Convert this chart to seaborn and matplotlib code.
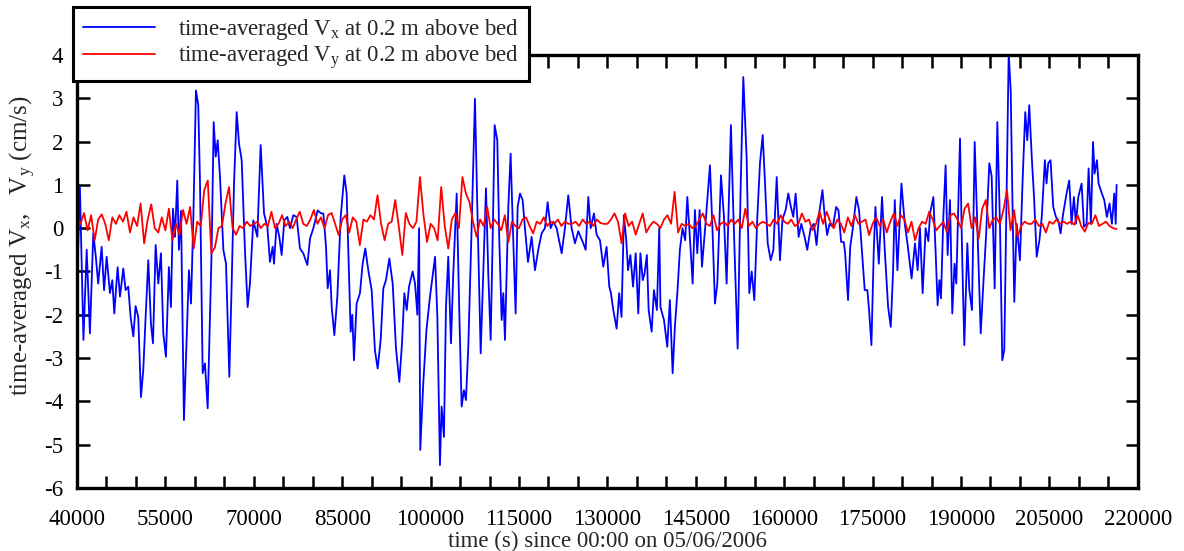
import numpy as np
import pandas as pd
import matplotlib
matplotlib.use("Agg")
import matplotlib.pyplot as plt
import seaborn as sns
from matplotlib.ticker import MultipleLocator

# time-averaged Vx (cm/s): time (s) and value
vx_time = [
    40000, 40150, 40500, 41100, 41650, 42200, 42770, 43200, 43600, 44190,
    44600, 45040, 45600, 46000, 46330, 46900, 47300, 47860, 48250, 48700,
    49100, 49560, 49950, 50400, 50860, 51250, 51650, 52100, 52550, 52900,
    53350, 53800, 54250, 54650, 55100, 55600, 55950, 56290, 56630, 57020,
    57300, 57650, 58150, 58600, 59000, 59350, 59750, 60190, 60580, 60870,
    61330, 61720, 62180, 62450, 62850, 63200, 63540, 63880, 64270, 64840,
    65290, 65850, 66250, 66650, 67100, 67500, 67950, 68500, 68960, 69350,
    69920, 70600, 71170, 71740, 72300, 72750, 73200, 73430, 73880, 74330,
    74730, 75180, 75690, 76140, 76710, 77270, 77840, 78400, 79090, 79540,
    80110, 80840, 81410, 81810, 82260, 82540, 82940, 83220, 83670, 84180,
    84750, 85360, 85760, 86100, 86440, 86720, 87000, 87450, 88020, 88470,
    88920, 89430, 90000, 90560, 91020, 91530, 91980, 92430, 93000, 93570,
    94130, 94700, 95150, 95550, 95950, 96340, 96960, 97360, 97760, 98050,
    98250, 98760, 99300, 99900, 100760, 101150, 101590, 101870, 102270, 102610,
    103000, 103460, 103850, 104430, 104850, 105270, 105660, 106000, 106400, 106960,
    107530, 107930, 108500, 108940, 109400, 109790, 110190, 110530, 110870, 111320,
    111660, 112060, 112340, 112620, 113190, 113580, 114030, 114430, 114770, 115170,
    115620, 116010, 116530, 117140, 117710, 118270, 118840, 119400, 119860, 120370,
    120820, 121390, 122240, 122800, 123360, 123930, 124500, 125060, 125910, 126310,
    126760, 127160, 127720, 128170, 128740, 129300, 129860, 130320, 130600, 131000,
    131570, 132000, 132400, 132800, 133200, 133500, 133900, 134350, 134800, 135240,
    135600, 136000, 136300, 136700, 137000, 137510, 137900, 138400, 138800, 139000,
    139600, 140160, 140600, 141070, 141450, 141900, 142300, 142750, 143200, 143560,
    143900, 144470, 144850, 145250, 145650, 146050, 146600, 147400, 147800, 148250,
    148650, 149270, 149780, 150230, 150960, 151360, 152100, 152600, 153060, 153620,
    154080, 154480, 154930, 155440, 155890, 156350, 156750, 157200, 157710, 158160,
    158730, 159280, 159700, 160240, 160690, 161140, 161540, 161940, 162450, 162900,
    163460, 163910, 164480, 165040, 165490, 166000, 166490, 166890, 167290, 167690,
    168250, 168820, 169210, 169660, 170110, 170340, 170830, 171200, 171650, 172250,
    172700, 173100, 173660, 174110, 174400, 174800, 175200, 175480, 176050, 176600,
    177060, 177630, 178080, 178480, 178760, 179210, 179890, 180460, 180910, 181620,
    182190, 182640, 183040, 183490, 184000, 184460, 184740, 185310, 185700, 186030,
    186340, 186600, 187000, 187390, 187730, 188130, 188520, 188900, 189200, 189830,
    190170, 190560, 191070, 191410, 191860, 192320, 192770, 193340, 193790, 194240,
    194800, 195200, 195710, 196160, 196610, 197000, 197340, 197740, 198090, 198430,
    198770, 199040, 199440, 200000, 200450, 200900, 201240, 201580, 202000, 202390,
    202840, 203300, 203700, 204230, 204510, 204800, 205190, 205650, 206100, 206500,
    206890, 207340, 207910, 208360, 208760, 209160, 209500, 209900, 210460, 210860,
    211310, 211650, 212040, 212400, 212660, 213060, 213340, 213900, 214300, 214750,
    215200, 215600, 216000, 216250, 216400,
]
vx_value = [
    -1.28, -0.74, 0.95, -2.58, -0.5, -2.43, -0.12, -0.66, -1.28, -0.43,
    -1.43, -0.66, -1.5, -1.2, -1.97, -0.9, -1.58, -0.93, -1.43, -1.35,
    -2.05, -2.5, -1.8, -2.05, -3.9, -3.28, -2.05, -0.74, -2.2, -2.66,
    -0.39, -1.28, -0.58, -2.43, -2.97, -0.9, -1.82, 0.45, -0.2, 1.1,
    -0.5, 0.4, -4.43, -2.58, -0.97, -1.74, 0.26, 3.18, 2.84, 1.1,
    -3.35, -3.12, -4.16, -2.66, -0.5, 2.45, 1.65, 2.03, 1.18, -0.5,
    -0.82, -3.43, -1.28, 1.03, 2.68, 1.95, 1.57, -0.5, -1.82, -1.28,
    0.18, -0.2, 1.92, 0.34, 0.03, -0.78, -0.43, -0.82, 0.1, -0.2,
    -0.62, 0.18, 0.26, 0.0, 0.3, 0.26, -0.47, -0.58, -0.85, -0.24,
    0.0, 0.41, 0.34, 0.34, -0.43, -1.39, -0.97, -1.82, -2.47, -1.58,
    0.26, 1.22, 0.8, -0.82, -2.39, -2.0, -3.05, -1.74, -1.5, -0.82,
    -0.47, -0.97, -1.43, -2.82, -3.24, -2.58, -1.39, -1.2, -0.7, -1.28,
    -2.78, -3.55, -2.66, -1.5, -1.89, -1.35, -1.0, -1.28, -2.0, 0.0,
    -5.12, -3.58, -2.35, -1.58, -0.66, -2.05, -5.47, -4.12, -4.82, -1.82,
    -0.66, -2.66, -1.05, 0.8, -1.82, -4.12, -3.74, -3.97, -2.74, 0.0,
    2.99, 0.49, -2.89, -1.05, 0.92, -1.05, -2.58, -0.28, 2.38, 2.03,
    -0.28, -2.12, -1.5, -2.58, 0.49, 1.72, -0.28, -1.97, 0.49, 0.8,
    0.65, 0.0, -0.78, -0.2, -0.97, -0.5, -0.12, 0.0, 0.6, 0.0,
    0.15, 0.0, -0.58, 0.0, 0.76, 0.0, -0.35, -0.07, -0.35, -0.5,
    0.72, 0.0, 0.34, -0.15, -0.28, -0.89, -0.43, -1.35, -1.5, -1.89,
    -2.32, -1.5, -2.05, 0.3, -0.28, -0.97, -0.62, -1.35, -0.58, -1.97,
    -0.58, -1.2, -1.05, -0.62, -1.89, -2.39, -1.43, -1.89, 0.0, -1.82,
    -2.12, -2.74, -1.66, -3.35, -2.28, -1.43, -0.5, 0.0, -0.28, 0.72,
    0.0, -1.28, 0.42, -0.58, 0.42, -0.89, 0.03, 1.45, 0.1, -1.74,
    -1.28, 1.22, 0.26, -1.28, 2.38, 0.41, -2.78, 0.88, 3.49, 1.65,
    -1.5, -1.0, -1.66, 0.26, 1.5, 2.15, 1.03, -0.35, -0.74, -0.5,
    1.18, -0.74, 0.2, 0.42, 0.8, 0.49, 0.26, 0.8, -0.2, 0.1,
    -0.2, -0.5, 0.0, 0.1, -0.39, 0.41, 0.88, 0.26, -0.16, 0.1,
    0.03, 0.49, 0.41, -0.32, -0.32, -0.58, -1.66, -0.43, 0.0, 0.72,
    0.41, -0.35, -1.43, -1.43, -1.89, -2.7, -0.5, 0.49, -0.82, 0.72,
    -0.5, -1.82, -2.28, -0.97, 0.65, -0.97, 1.03, 0.1, -0.35, -1.16,
    -0.35, -0.97, 0.0, -1.5, 0.0, -0.3, 0.34, 0.72, -0.58, -1.78,
    -1.2, -1.62, 0.26, 1.45, -0.62, 0.65, -1.97, -0.82, -1.28, 2.07,
    -0.5, -2.7, -0.35, -1.43, -1.89, 1.99, 0.03, -2.43, -1.28, -0.2,
    1.5, 1.2, -1.39, 2.45, 0.1, -3.05, -2.82, 0.88, 4.05, 3.18,
    0.26, -1.7, 0.1, -0.74, 1.1, 2.68, 2.03, 2.84, 1.65, 0.72,
    -0.66, -0.28, 0.26, 1.57, 1.03, 1.5, 1.57, 0.49, 0.26, 0.18,
    -0.12, 0.34, 0.8, 1.1, 0.1, 0.72, 0.1, 0.72, 1.03, 0.03,
    0.1, 1.38, 0.1, 1.99, 1.26, 1.57, 1.03, 0.8, 0.65, 0.26,
    0.57, 0.1, 0.8, 0.1, 1.0,
]

# time-averaged Vy (cm/s), sampled every 600 s from 40000 s
vy_start = 40000
vy_step = 600
vy_value = [
    0.25, 0.1, 0.35, -0.05, 0.3, -0.28, 0.2, 0.32, 0.1, -0.28,
    0.25, 0.1, 0.3, 0.15, 0.38, -0.1, 0.25, 0.05, 0.57, -0.35,
    0.2, 0.55, 0.0, -0.1, 0.25, -0.05, 0.45, -0.28, 0.1, -0.15,
    0.42, 0.1, 0.49, -0.47, 0.15, 0.05, 0.88, 1.1, -0.58, -0.45,
    0.0, 0.05, 0.57, 0.95, 0.0, -0.15, 0.05, 0.0, 0.15, 0.05,
    0.1, 0.15, 0.0, 0.1, 0.05, 0.38, 0.0, 0.1, 0.3, 0.05,
    0.15, 0.0, 0.2, 0.38, 0.1, 0.05, 0.2, 0.42, 0.1, 0.25,
    0.0, 0.3, 0.35, 0.1, -0.16, 0.2, 0.3, -0.1, 0.25, 0.15,
    -0.39, 0.2, 0.15, 0.3, 0.2, 0.76, 0.1, -0.28, 0.1, 0.15,
    0.65, 0.05, -0.62, 0.35, 0.1, 0.0, 0.15, 1.18, 0.3, -0.32,
    0.1, 0.0, -0.28, 0.95, 0.05, -0.47, 0.2, 0.35, 0.0, 1.18,
    0.8, 0.6, 0.15, -0.2, 0.2, 0.05, 0.49, 0.0, 0.2, 0.1,
    -0.05, 0.3, -0.32, 0.15, 0.05, 0.0, 0.2, 0.25, 0.05, -0.12,
    0.15, 0.1, 0.25, 0.05, 0.15, 0.1, 0.2, 0.05, 0.15, 0.1,
    0.1, 0.15, 0.05, 0.2, 0.1, 0.15, 0.05, 0.2, 0.12, 0.1,
    0.1, 0.2, 0.34, 0.15, -0.35, 0.34, 0.05, 0.15, -0.15, 0.1,
    0.34, -0.1, 0.05, 0.15, 0.1, 0.0, 0.2, 0.3, 0.1, 0.84,
    -0.1, 0.1, 0.05, 0.1, 0.0, 0.05, 0.2, 0.34, 0.1, 0.05,
    0.3, -0.05, 0.1, 0.15, 0.05, 0.2, 0.1, 0.2, 0.0, 0.45,
    0.05, 0.15, 0.0, 0.1, 0.15, 0.1, 0.05, 0.2, 0.1, 0.3,
    0.15, 0.1, 0.2, 0.05, 0.1, 0.34, 0.15, 0.2, -0.05, 0.1,
    0.38, 0.1, 0.38, 0.15, 0.0, 0.2, 0.1, -0.1, 0.25, 0.05,
    0.3, 0.1, 0.15, 0.2, -0.16, 0.1, 0.25, 0.05, 0.2, -0.1,
    0.15, 0.34, 0.05, 0.3, 0.2, -0.1, 0.15, -0.28, 0.0, 0.15,
    0.1, 0.38, 0.2, -0.05, 0.05, 0.15, -0.1, 0.3, 0.34, 0.2,
    0.0, 0.45, 0.57, 0.0, 0.25, -0.24, 0.45, 0.65, 0.0, 0.2,
    0.25, 0.1, 0.42, 0.88, -0.05, 0.42, -0.2, 0.05, 0.15, 0.1,
    0.1, 0.2, 0.05, 0.1, -0.1, 0.15, 0.1, 0.2, 0.1, 0.15,
    0.1, 0.15, 0.08, 0.3, 0.05, -0.08, 0.12, 0.1, 0.3, 0.05,
    0.1, 0.15, 0.05, 0.0, -0.02,
]
vy_time = vy_start + vy_step * np.arange(len(vy_value))

x_ticks = [40000, 55000, 70000, 85000, 100000, 115000, 130000,
           145000, 160000, 175000, 190000, 205000, 220000]

lab_x = r'time-averaged V$_\mathregular{x}$ at 0.2 m above bed'
lab_y = r'time-averaged V$_\mathregular{y}$ at 0.2 m above bed'

sns.set_style('ticks')
plt.rcParams['font.family'] = ['Liberation Serif', 'DejaVu Serif']
plt.rcParams['mathtext.fontset'] = 'custom'
plt.rcParams['mathtext.rm'] = 'Liberation Serif'
plt.rcParams['mathtext.it'] = 'Liberation Serif:italic'
plt.rcParams['axes.unicode_minus'] = False

fig = plt.figure(figsize=(11.84, 5.51), dpi=100)
ax = fig.add_axes([0.065, 0.1143, 0.896, 0.786])

df_x = pd.DataFrame({'t': vx_time, 'v': vx_value})
df_y = pd.DataFrame({'t': vy_time, 'v': vy_value})
sns.lineplot(data=df_x, x='t', y='v', color='#0000ff', linewidth=1.3,
             estimator=None, sort=False, ax=ax, label=lab_x)
sns.lineplot(data=df_y, x='t', y='v', color='#ff0000', linewidth=1.3,
             estimator=None, sort=False, ax=ax, label=lab_y)

ax.set_xlim(40000, 220000)
ax.set_ylim(-6, 4)
ax.set_xticks(x_ticks)
ax.xaxis.set_minor_locator(MultipleLocator(5000))
ax.yaxis.set_major_locator(MultipleLocator(1))
ax.tick_params(which='both', direction='in', length=9, width=1.8,
               top=True, right=True, colors='black')
ax.tick_params(axis='x', which='major', labelsize=16.5, pad=15)
ax.tick_params(axis='y', which='major', labelsize=16.5, pad=10)
for s in ax.spines.values():
    s.set_linewidth(2.4)
    s.set_color('black')

ax.set_xlabel('time (s) since 00:00 on 05/06/2006', fontsize=16.5, labelpad=1)
ax.set_ylabel(r'time-averaged V$_\mathregular{x}$,   V$_\mathregular{y}$ (cm/s)',
              fontsize=18)
ax.yaxis.set_label_coords(-0.037, 0.56)

leg = ax.legend(loc='upper left', bbox_to_anchor=(73 / 1184, 1 - 7 / 551),
                bbox_transform=fig.transFigure, frameon=True, fancybox=False,
                edgecolor='black', framealpha=1, fontsize=16.4,
                handlelength=3.15, borderpad=0.45, borderaxespad=0,
                labelspacing=0.05, handletextpad=1.0)
leg.get_frame().set_linewidth(2.2)

fig.savefig('out.png', dpi=100)
